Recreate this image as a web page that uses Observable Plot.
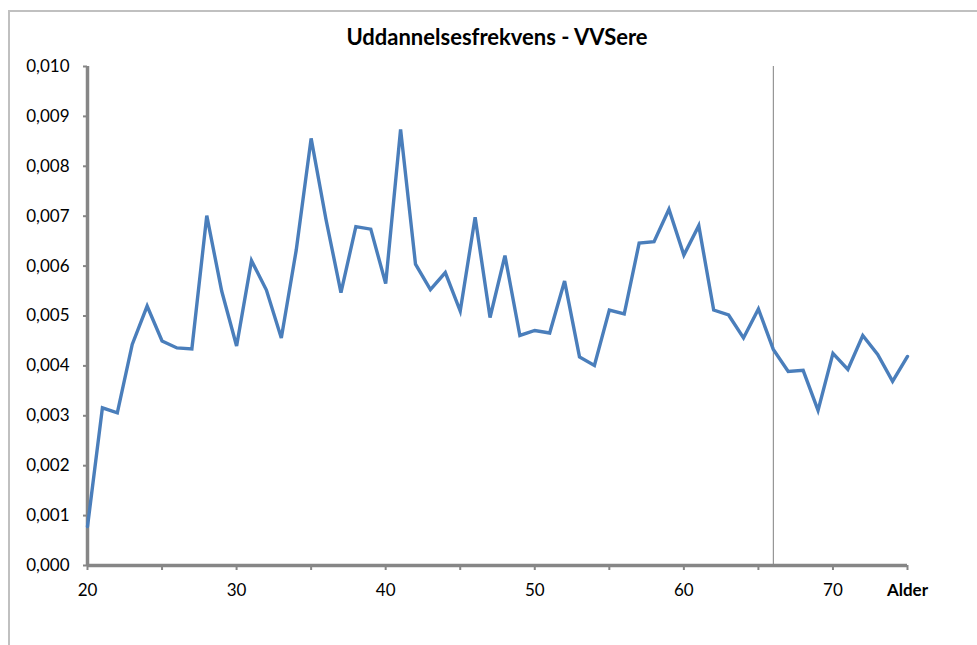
<!DOCTYPE html>
<html>
<head>
<meta charset="utf-8">
<script src="https://cdn.jsdelivr.net/npm/d3@7"></script>
<script src="https://cdn.jsdelivr.net/npm/@observablehq/plot@0.6"></script>
<style>
  html, body { margin: 0; padding: 0; background: #fff; }
  #wrap { position: relative; width: 977px; height: 645px; overflow: hidden; }
  #frame { position: absolute; left: 8px; top: 10px; width: 1000px; height: 700px;
           border-left: 2px solid #c0c0c0; border-top: 2px solid #c0c0c0; box-sizing: border-box; }
  #title { position: absolute; left: 0; width: 994px; top: 23px; text-align: center;
           font: bold 22px Lato, "Open Sans", sans-serif; color: #000; }
  #chart { position: absolute; left: 0; top: 0; }
</style>
</head>
<body>
<div id="wrap">
  <div id="frame"></div>
  <div id="chart"></div>
  <div id="title">Uddannelsesfrekvens - VVSere</div>
</div>
<script>
const titleText = "Uddannelsesfrekvens - VVSere";
const ages = d3.range(20, 76);
const values = [
  0.00078, 0.00316, 0.00306, 0.00443, 0.00520, 0.00450, 0.00436, 0.00434, 0.00701, 0.00550,
  0.00440, 0.00611, 0.00552, 0.00456, 0.00632, 0.00856, 0.00693, 0.00547, 0.00679, 0.00674,
  0.00565, 0.00874, 0.00604, 0.00553, 0.00587, 0.00510, 0.00698, 0.00497, 0.00621, 0.00461,
  0.00471, 0.00466, 0.00570, 0.00418, 0.00401, 0.00512, 0.00504, 0.00646, 0.00649, 0.00714,
  0.00622, 0.00681, 0.00512, 0.00502, 0.00456, 0.00514, 0.00433, 0.00389, 0.00391, 0.00311,
  0.00425, 0.00393, 0.00461, 0.00423, 0.00369, 0.00419
];
const yTicks = [0, 0.001, 0.002, 0.003, 0.004, 0.005, 0.006, 0.007, 0.008, 0.009, 0.010];
const xTickMarks = [20, 25, 30, 35, 40, 45, 50, 55, 60, 65, 70, 75];
const xTickLabels = [20, 30, 40, 50, 60, 70];
const xAxisTitle = "Alder";
const markerAge = [66];

const data = ages.map((a, i) => ({age: a, value: values[i]}));
const axisColor = "#868686";
const font = "Lato, 'Open Sans', sans-serif";

const chart = Plot.plot({
  width: 977,
  height: 645,
  marginLeft: 87,
  marginRight: 70,
  marginTop: 66,
  marginBottom: 80,
  style: {fontFamily: font, fontSize: "17px", color: "#000", background: "transparent"},
  x: {domain: [20, 75]},
  y: {domain: [0, 0.010]},
  marks: [
    Plot.ruleX(markerAge, {stroke: "#808080", strokeWidth: 1}),
    Plot.axisY({ticks: yTicks, tickSize: 4, tickPadding: 14, stroke: axisColor, strokeWidth: 2,
                tickFormat: d => d.toFixed(3).replace(".", ","), label: null, fontSize: 17, fill: "#000"}),
    Plot.axisX({ticks: xTickMarks, tickSize: 5, tickFormat: () => "", label: null, stroke: axisColor, strokeWidth: 2}),
    Plot.axisX({ticks: xTickLabels, tickSize: 0, tickPadding: 18, label: null, fontSize: 17, fill: "#000"}),
    Plot.text([xAxisTitle], {x: 75, y: 0, dy: 25, text: d => d, fontWeight: "bold", fontSize: 17, fill: "#000"}),
    Plot.ruleX([20], {stroke: axisColor, strokeWidth: 3.5}),
    Plot.ruleY([0], {stroke: axisColor, strokeWidth: 3.5}),
    Plot.line(data, {x: "age", y: "value", stroke: "#4a7ebb", strokeWidth: 3.4, strokeLinejoin: "miter", strokeMiterlimit: 4})
  ]
});
document.getElementById("chart").appendChild(chart);
</script>
</body>
</html>
